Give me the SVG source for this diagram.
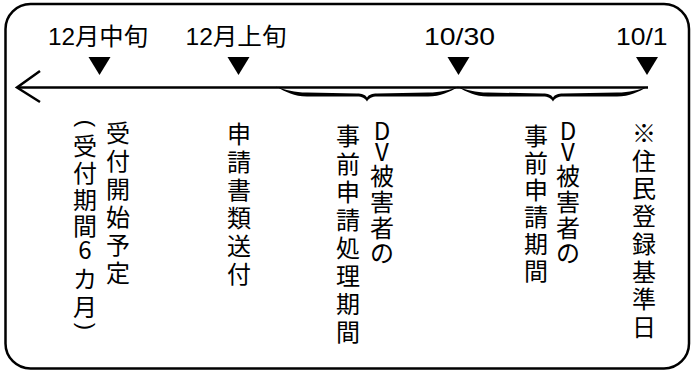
<svg xmlns="http://www.w3.org/2000/svg" width="691" height="371" viewBox="0 0 691 371">
<style>
.frame{fill:#fff;stroke:#000;stroke-width:2.5}
.line{fill:none;stroke:#000;stroke-width:2.5}
.brace{fill:#000;stroke:none}
.tri{fill:#000}
.lbl{font-family:"Liberation Sans","Noto Sans CJK JP",sans-serif;font-size:24px;fill:#000}
.v{font-family:"Noto Sans CJK JP",sans-serif;font-size:24px;fill:#000;text-anchor:middle}
.par{font-family:"Liberation Sans",sans-serif;font-size:22px;fill:#000;text-anchor:middle}
</style>
<rect x="0" y="0" width="691" height="371" fill="#fff"/>
<rect class="frame" x="5.5" y="4" width="683.5" height="364.5" rx="25" ry="25"/>

<g id="connectors">
  <line class="line" x1="17" y1="87.5" x2="648" y2="87.5"/>
  <polyline class="line" points="40,71 17,87.5 40,102"/>
  <path class="brace" d="M276 86.5 C286 92 294 96.5 307 96.5 L357 96.5 C362 96.5 365 98 367 101.5 C369 98 372 96.5 377 96.5 L428 96.5 C441 96.5 449 92 459 86.5 C449 90 441 92.5 428 92.5 L377 93.5 C372 93.5 369 94.5 367 97.5 C365 94.5 362 93.5 357 93.5 L307 92.5 C294 92.5 286 90 276 86.5 Z"/>
  <path class="brace" d="M457 86.5 C467 92 475 96.5 488 96.5 L543 96.5 C548 96.5 551 98 553 101.5 C555 98 558 96.5 563 96.5 L617 96.5 C630 96.5 638 92 648 86.5 C638 90 630 92.5 617 92.5 L563 93.5 C558 93.5 555 94.5 553 97.5 C551 94.5 548 93.5 543 93.5 L488 92.5 C475 92.5 467 90 457 86.5 Z"/>
</g>

<g id="m-dec-mid">
  <text class="lbl" x="48" y="45" textLength="100" lengthAdjust="spacingAndGlyphs">12月中旬</text>
  <polygon class="tri" points="88.5,57 110.5,57 99.5,75"/>
</g>
<g id="m-dec-early">
  <text class="lbl" x="185.5" y="45" textLength="101" lengthAdjust="spacingAndGlyphs">12月上旬</text>
  <polygon class="tri" points="227.5,57 249.5,57 238.5,75"/>
</g>
<g id="m-oct30">
  <text class="lbl" x="424" y="45" textLength="71" lengthAdjust="spacingAndGlyphs">10/30</text>
  <polygon class="tri" points="447.5,57 469.5,57 458.5,75"/>
</g>
<g id="m-oct1">
  <text class="lbl" x="616" y="45" textLength="51.5" lengthAdjust="spacingAndGlyphs">10/1</text>
  <polygon class="tri" points="636,57 658,57 647,75"/>
</g>

<g id="col-start">
  <text class="v" x="118 118 118 118 118 118" y="142 170 198 226 254 282">受付開始予定</text>
</g>
<g id="col-period">
  <text class="par" transform="translate(85,123.5) rotate(90)" x="0" y="5.7">(</text>
  <text class="v" x="85 85 85 85 85 85 85" y="155 182 209 235 258.5 288 316">受付期間6カ月</text>
  <text class="par" transform="translate(85,326.5) rotate(90)" x="0" y="5.7">)</text>
</g>
<g id="col-send">
  <text class="v" x="239 239 239 239 239 239" y="143 171 199 227 255 283">申請書類送付</text>
</g>
<g id="col-process">
  <text class="v" x="348 348 348 348 348 348 348 348" y="145 173 201 229 257 285 313 341">事前申請処理期間</text>
  <text class="v" x="382 382 382 382 382 382" y="139.6 160.6 185 211 237 262">DV被害者の</text>
</g>
<g id="col-apply">
  <text class="v" x="536 536 536 536 536 536" y="145 172 199 226 253 280">事前申請期間</text>
  <text class="v" x="568 568 568 568 568 568" y="139.6 160.6 185 211 237 262">DV被害者の</text>
</g>
<g id="col-base">
  <text class="v" x="644 644 644 644 644 644 644 644" y="142 169.7 197.4 225 252.8 280.5 308.2 336">※住民登録基準日</text>
</g>
</svg>
